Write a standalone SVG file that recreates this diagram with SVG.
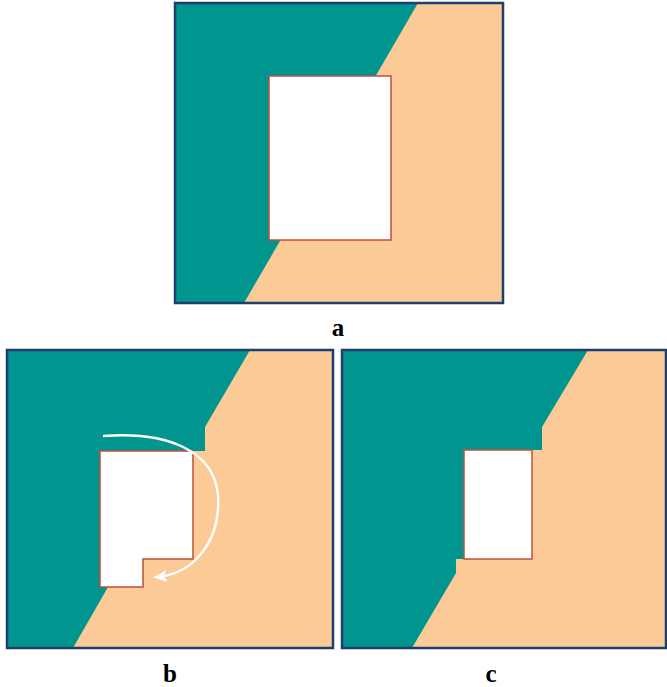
<svg xmlns="http://www.w3.org/2000/svg" width="667" height="687" viewBox="0 0 667 687">
<style>
.peach{fill:#fbca97}
.teal{fill:#00958f}
.frame{fill:none;stroke:#1c3f6e;stroke-width:2.5}
.hole{fill:#ffffff;stroke:#c0503a;stroke-width:1.5}
.lbl{font-family:"Liberation Serif",serif;font-weight:bold;font-size:25px;fill:#000;text-anchor:middle}
</style>
<defs>
<marker id="ah" markerWidth="14" markerHeight="12" refX="9" refY="6" orient="auto" markerUnits="userSpaceOnUse" viewBox="0 0 14 12">
<path d="M0,0 L14,6 L0,12 L3,6 Z" fill="#ffffff"/>
</marker>
</defs>
<g id="panel-a">
<rect class="peach" x="175" y="3" width="328" height="300"/>
<polygon class="teal" points="175,3 418,3 244,303 175,303"/>
<rect class="hole" x="269" y="76" width="122" height="164"/>
<rect class="frame" x="175" y="3" width="328" height="300"/>
<text class="lbl" x="338" y="336">a</text>
</g>
<g id="panel-b">
<rect class="peach" x="7" y="350" width="326" height="298"/>
<polygon class="teal" points="7,350 250,350 205,427 205,451 120,451 120,587 108,587 73,648 7,648"/>
<path class="hole" d="M100,451 H193 V559 H143 V587 H100 Z"/>
<rect class="frame" x="7" y="350" width="326" height="298"/>
<text class="lbl" x="170" y="682">b</text>
</g>
<g id="panel-c">
<rect class="peach" x="342" y="350" width="324" height="298"/>
<polygon class="teal" points="342,350 588,350 542,427 542,450 500,450 500,559 456,559 456,573 412,648 342,648"/>
<rect class="hole" x="464" y="450" width="68" height="109"/>
<rect class="frame" x="342" y="350" width="324" height="298"/>
<text class="lbl" x="491" y="682">c</text>
</g>
<g id="connectors">
<path d="M103,436 C170,431 214,452 218,495 C221,540 195,573 158,577" fill="none" stroke="#ffffff" stroke-width="2.5" marker-end="url(#ah)"/>
</g>
</svg>
